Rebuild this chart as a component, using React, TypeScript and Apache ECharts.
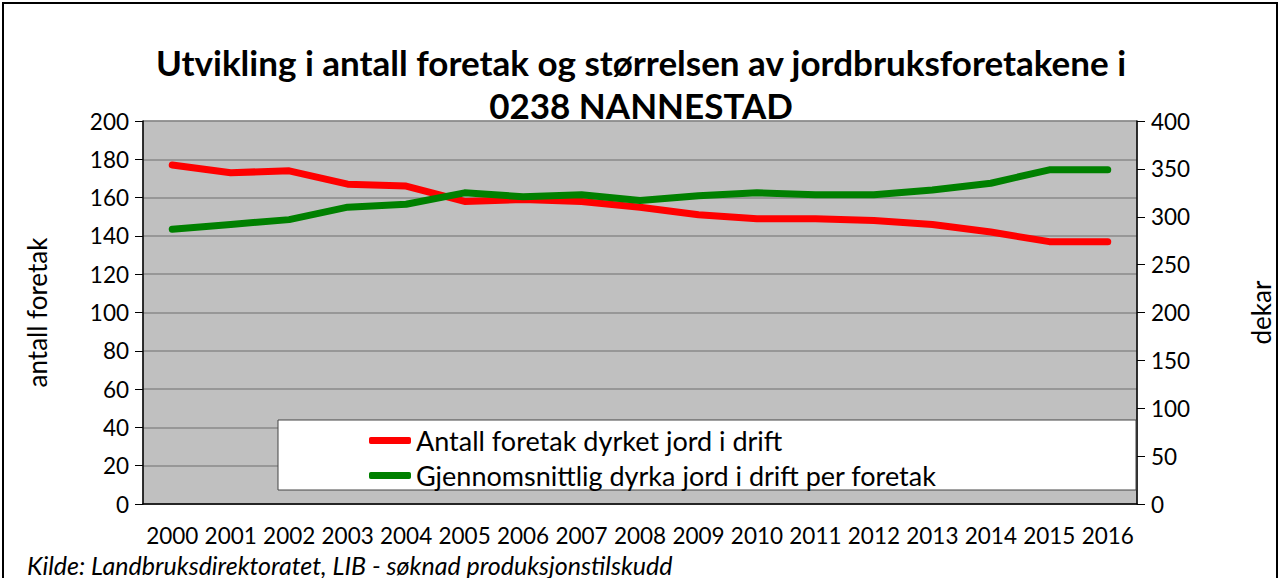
import React, { useEffect, useRef } from "react";
import * as echarts from "echarts";

const years = ["2000","2001","2002","2003","2004","2005","2006","2007","2008","2009","2010","2011","2012","2013","2014","2015","2016"];
const foretak = [177, 173, 174, 167, 166, 158, 159, 158, 155, 151, 149, 149, 148, 146, 142, 137, 137];
const dekar = [287, 292, 297, 310, 313, 325, 321, 323, 317, 322, 325, 323, 323, 328, 335, 349, 349];
const seriesNames = ["Antall foretak dyrket jord i drift", "Gjennomsnittlig dyrka jord i drift per foretak"];
const titleLines = ["Utvikling i antall foretak og størrelsen av jordbruksforetakene i", "0238 NANNESTAD"];
const sourceText = "Kilde: Landbruksdirektoratet, LIB - søknad produksjonstilskudd";

const FONT = "Lato, 'Open Sans', sans-serif";

export default function App() {
  const ref = useRef<HTMLDivElement>(null);
  useEffect(() => {
    document.body.style.margin = "0";
    const chart = echarts.init(ref.current!, null, { renderer: "svg" });
    const axisLabel = { fontFamily: FONT, fontSize: 22.5, color: "#000", lineHeight: 22 };
    chart.setOption({
      animation: false,
      backgroundColor: "#fff",
      title: {
        text: titleLines.join("\n"),
        left: "center",
        top: 35,
        textStyle: { fontFamily: FONT, fontSize: 35, fontWeight: "bold", color: "#000", lineHeight: 43 },
      },
      grid: {
        left: 143, right: 144, top: 121, bottom: 74,
        show: true, backgroundColor: "#C0C0C0", borderColor: "#888", borderWidth: 1,
      },
      legend: {
        orient: "vertical",
        left: 364,
        top: 422,
        itemWidth: 42,
        itemHeight: 7,
        itemGap: 8,
        icon: "roundRect",
        textStyle: { fontFamily: FONT, fontSize: 27, color: "#000" },
        data: seriesNames,
        z: 5,
      },
      graphic: [
        { type: "rect", z: 3, shape: { x: 278, y: 420, width: 858, height: 70 }, style: { fill: "#fff", stroke: "#444", lineWidth: 1 } },
        { type: "rect", z: 10, shape: { x: 3, y: 3, width: 1274, height: 600 }, style: { fill: "none", stroke: "#000", lineWidth: 2 } },
        { type: "text", left: 27, top: 552, style: { text: sourceText, font: `italic 25px ${FONT}`, lineHeight: 22, fill: "#000" } },
      ],
      xAxis: {
        type: "category",
        data: years,
        boundaryGap: true,
        axisLine: { lineStyle: { color: "#000", width: 1.5 } },
        axisTick: { length: 8, lineStyle: { color: "#000" } },
        axisLabel: { ...axisLabel, margin: 20, interval: 0 },
      },
      yAxis: [
        {
          type: "value", min: 0, max: 200, interval: 20,
          name: "antall foretak", nameLocation: "middle", nameGap: 93,
          nameTextStyle: { fontFamily: FONT, fontSize: 26, color: "#000" },
          axisLine: { show: true, lineStyle: { color: "#000", width: 1.5 } },
          axisTick: { show: true, length: 8, lineStyle: { color: "#000" } },
          axisLabel: { ...axisLabel, margin: 14 },
          splitLine: { lineStyle: { color: "#8a8a8a", width: 1.5 } },
        },
        {
          type: "value", min: 0, max: 400, interval: 50,
          name: "dekar", nameLocation: "middle", nameGap: 111,
          nameTextStyle: { fontFamily: FONT, fontSize: 26, color: "#000" },
          axisLine: { show: true, lineStyle: { color: "#000", width: 1.5 } },
          axisTick: { show: true, length: 8, lineStyle: { color: "#000" } },
          axisLabel: { ...axisLabel, margin: 14 },
          splitLine: { show: false },
        },
      ],
      series: [
        {
          name: seriesNames[0], type: "line", data: foretak, yAxisIndex: 0,
          symbol: "none", color: "#FF0000",
          lineStyle: { width: 7, color: "#FF0000", cap: "round", join: "round" },
        },
        {
          name: seriesNames[1], type: "line", data: dekar, yAxisIndex: 1,
          symbol: "none", color: "#008000",
          lineStyle: { width: 7, color: "#008000", cap: "round", join: "round" },
        },
      ],
    });
    return () => chart.dispose();
  }, []);
  return <div ref={ref} style={{ width: 1282, height: 578 }} />;
}
